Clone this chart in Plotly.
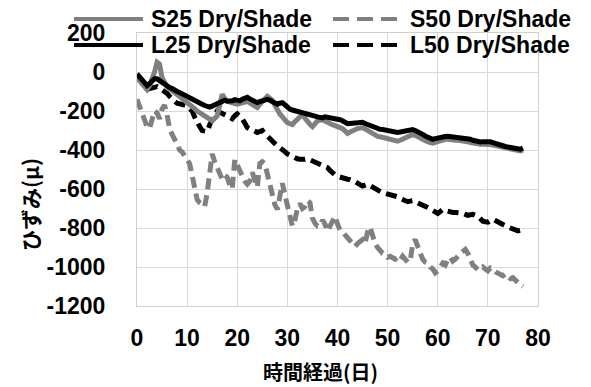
import plotly.graph_objects as go

# Elapsed time in days, sampled every half day
days = [i * 0.5 for i in range(155)]

# Axis ticks
x_ticks = [0, 10, 20, 30, 40, 50, 60, 70, 80]
y_ticks = [200, 0, -200, -400, -600, -800, -1000, -1200]
y_tick_labels = ["200", "0", "-200", "-400", "-600", "-800", "-1000", "-1200"]

# Strain (micro) for each specimen under dry / shade curing
s25 = [-30, -45, -60, -75, -90, -70, -40, 0, 50, 40, -30, -55, -75, -85, -95, -105,
       -115, -122, -130, -140, -150, -162, -175, -188, -200, -210, -220, -228, -235, -242,
       -250, -240, -225, -170, -115, -135, -150, -155, -160, -162, -165, -162, -160, -155,
       -150, -158, -165, -175, -182, -165, -150, -135, -125, -135, -145, -170, -200, -215,
       -230, -245, -260, -265, -270, -255, -240, -230, -220, -238, -255, -268, -280, -265,
       -250, -248, -245, -252, -260, -265, -270, -275, -280, -285, -290, -302, -315, -308,
       -300, -295, -290, -288, -285, -292, -300, -310, -320, -325, -330, -332, -335, -338,
       -340, -342, -345, -350, -355, -350, -345, -338, -330, -325, -320, -325, -330, -338,
       -345, -352, -360, -362, -365, -360, -355, -350, -345, -345, -345, -348, -350, -350,
       -350, -351, -352, -355, -358, -362, -365, -368, -372, -371, -370, -369, -368, -372,
       -375, -378, -382, -386, -390, -392, -395, -398, -400, -404, -408, -405, -400]

s50 = [-140, -180, -220, -250, -280, -290, -240, -200, -210, -240, -190, -170, -220, -290,
       -320, -340, -370, -400, -410, -430, -450, -470, -530, -600, -655, -670, -680, -690,
       -620, -500, -420, -460, -490, -520, -550, -530, -540, -580, -600, -450, -480, -510,
       -545, -560, -575, -560, -515, -560, -590, -470, -460, -470, -520, -590, -640, -680,
       -705, -620, -570, -630, -680, -740, -790, -760, -700, -675, -700, -690, -660, -670,
       -750, -775, -790, -790, -760, -780, -815, -790, -760, -740, -780, -810, -820, -835,
       -845, -860, -880, -895, -880, -870, -860, -880, -820, -795, -850, -880, -900, -920,
       -930, -935, -950, -945, -955, -960, -950, -965, -945, -960, -975, -970, -880, -860,
       -900, -940, -960, -975, -980, -1000, -1010, -1030, -1020, -1000, -980, -990, -960,
       -950, -970, -960, -940, -930, -920, -910, -930, -970, -990, -1000, -1015, -1010,
       -1000, -1010, -1020, -1005, -1010, -1025, -1030, -1040, -1045, -1035, -1050, -1060,
       -1055, -1070, -1080, -1090, -1100]

l25 = [-10, -25, -40, -60, -70, -60, -45, -35, -35, -45, -55, -65, -75, -80, -85, -95,
       -100, -105, -110, -120, -125, -132, -140, -148, -155, -160, -165, -172, -178, -180,
       -175, -170, -165, -155, -150, -145, -150, -152, -148, -142, -145, -148, -140, -135,
       -130, -138, -145, -150, -157, -152, -150, -145, -140, -145, -150, -158, -165, -160,
       -157, -168, -180, -190, -195, -198, -200, -202, -205, -210, -215, -218, -222, -226,
       -230, -232, -235, -230, -232, -236, -238, -236, -240, -245, -250, -258, -265, -264,
       -262, -260, -262, -260, -258, -264, -270, -275, -280, -286, -292, -294, -295, -298,
       -300, -302, -305, -308, -310, -308, -305, -300, -300, -297, -295, -300, -305, -312,
       -320, -328, -335, -340, -345, -342, -338, -335, -332, -331, -330, -331, -332, -334,
       -335, -335, -336, -338, -340, -345, -350, -355, -360, -359, -358, -356, -355, -358,
       -362, -367, -372, -376, -380, -382, -385, -388, -392, -395, -398, -396, -390]

l50 = [-20, -40, -60, -75, -90, -85, -80, -78, -75, -82, -90, -100, -110, -125, -140, -150,
       -160, -162, -165, -170, -175, -185, -200, -230, -260, -280, -300, -302, -305, -270,
       -240, -220, -200, -205, -210, -218, -225, -232, -240, -225, -215, -228, -240, -262,
       -285, -292, -300, -305, -310, -305, -300, -315, -330, -342, -355, -368, -380, -388,
       -395, -408, -420, -428, -435, -440, -445, -448, -450, -448, -445, -450, -455, -462,
       -470, -475, -480, -485, -490, -505, -520, -528, -535, -540, -545, -548, -550, -552,
       -555, -562, -570, -578, -585, -580, -575, -582, -590, -595, -600, -610, -620, -622,
       -625, -628, -630, -635, -640, -648, -655, -660, -665, -662, -660, -665, -670, -675,
       -680, -688, -695, -702, -710, -718, -725, -715, -705, -710, -715, -718, -720, -720,
       -720, -722, -725, -730, -735, -732, -730, -735, -740, -752, -765, -768, -770, -762,
       -755, -762, -770, -778, -785, -790, -795, -800, -805, -810, -815, -812, -810]

GRAY = "#808080"
BLACK = "#000000"
DASH = "11px,6px"
LEGEND_DASH = "16px,8px"

series = [
    ("S50 Dry/Shade", s50, GRAY, DASH),
    ("L50 Dry/Shade", l50, BLACK, DASH),
    ("S25 Dry/Shade", s25, GRAY, "solid"),
    ("L25 Dry/Shade", l25, BLACK, "solid"),
]

fig = go.Figure()
for name, vals, color, dash in series:
    fig.add_trace(go.Scatter(
        x=days, y=vals, mode="lines", name=name,
        line=dict(color=color, width=5, dash=dash),
        showlegend=False,
    ))

# Plot-area geometry in pixels, used to place the hand-drawn legend and titles
L, R, T, B = 137, 538, 33, 306
W, H = R - L, B - T


def px(x):
    return (x - L) / W


def py(y):
    return (B - y) / H


FONT = "Liberation Sans, Arial, sans-serif"
JP_FONT = "Noto Sans CJK JP, sans-serif"

legend_items = [
    ("S25 Dry/Shade", GRAY, "solid", 74, 143, 19),
    ("L25 Dry/Shade", BLACK, "solid", 74, 143, 45),
    ("S50 Dry/Shade", GRAY, LEGEND_DASH, 333, 402, 19),
    ("L50 Dry/Shade", BLACK, LEGEND_DASH, 333, 402, 45),
]
shapes = []
annotations = []
for name, color, dash, x0, x1, y in legend_items:
    shapes.append(dict(type="line", xref="paper", yref="paper",
                       x0=px(x0), x1=px(x1), y0=py(y), y1=py(y),
                       line=dict(color=color, width=4, dash=dash)))
    annotations.append(dict(xref="paper", yref="paper", x=px(x1 + 6), y=py(y),
                            xanchor="left", yanchor="middle", showarrow=False,
                            text=f"<b>{name}</b>",
                            font=dict(family=FONT, size=23, color="#000")))

annotations.append(dict(xref="paper", yref="paper", x=px(320), y=py(371),
                        xanchor="center", yanchor="middle", showarrow=False,
                        text="<b>時間経過(日)</b>",
                        font=dict(family=JP_FONT, size=20, color="#000")))
annotations.append(dict(xref="paper", yref="paper", x=px(30), y=py(205),
                        xanchor="center", yanchor="middle", showarrow=False,
                        textangle=-90, text="<b>ひずみ(μ)</b>",
                        font=dict(family=JP_FONT, size=21, color="#000")))

fig.update_layout(
    width=591, height=387,
    margin=dict(l=L, r=591 - R, t=T, b=387 - B, pad=0),
    paper_bgcolor="white", plot_bgcolor="white",
    shapes=shapes, annotations=annotations,
    font=dict(family=FONT, size=22, color="#000"),
)
fig.update_xaxes(
    range=[0, 80], tickvals=x_ticks, ticktext=[str(v) for v in x_ticks],
    showgrid=True, gridcolor="#d9d9d9", gridwidth=1,
    showline=True, linecolor="#d0d0d0", linewidth=1, mirror=True,
    ticks="outside", ticklen=11, tickcolor="rgba(0,0,0,0)",
    tickfont=dict(family=FONT, size=23, color="#000", weight="bold"),
    zeroline=False,
)
fig.update_yaxes(
    range=[-1200, 200], tickvals=y_ticks, ticktext=y_tick_labels,
    showgrid=True, gridcolor="#d9d9d9", gridwidth=1,
    showline=True, linecolor="#d0d0d0", linewidth=1, mirror=True,
    ticks="outside", ticklen=26, tickcolor="rgba(0,0,0,0)",
    tickfont=dict(family=FONT, size=23, color="#000", weight="bold"),
    zeroline=False,
)

fig.write_html("out.html")
